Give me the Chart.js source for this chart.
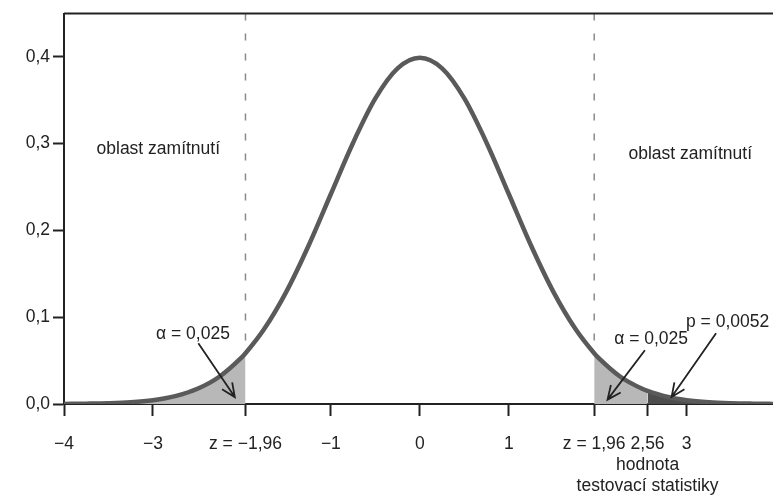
<!DOCTYPE html>
<html>
<head>
<meta charset="utf-8">
<script src="https://cdn.jsdelivr.net/npm/chart.js@4/dist/chart.umd.min.js"></script>
<style>
  html, body { margin: 0; background: #fff; }
  canvas { display: block; }
</style>
</head>
<body>
<canvas id="chart" width="773" height="498"></canvas>
<script>
// z values and the density
const zValues = [-4, -3.75, -3.5, -3.25, -3, -2.75, -2.5, -2.25, -2, -1.96, -1.75, -1.5, -1.25, -1, -0.75, -0.5, -0.25,
  0, 0.25, 0.5, 0.75, 1, 1.25, 1.5, 1.75, 1.96, 2, 2.25, 2.5, 2.56, 2.75, 3, 3.25, 3.5, 3.75, 4];
const density = [0.0001, 0.0004, 0.0009, 0.0020, 0.0044, 0.0091, 0.0175, 0.0317, 0.0540, 0.0584, 0.0863, 0.1295, 0.1826, 0.2420, 0.3011, 0.3521, 0.3867,
  0.3989, 0.3867, 0.3521, 0.3011, 0.2420, 0.1826, 0.1295, 0.0863, 0.0584, 0.0540, 0.0317, 0.0175, 0.0151, 0.0091, 0.0044, 0.0020, 0.0009, 0.0004, 0.0001];

const criticalValues = [-1.96, 1.96];
const testStatistic = 2.56;

const xTickValues = [-4, -3, -1.96, -1, 0, 1, 1.96, 2.56, 3];
const xTickLabels = ['\u22124', '\u22123', 'z = \u22121,96', '\u22121', '0', '1', 'z = 1,96',
  ['2,56', 'hodnota', 'testovací statistiky'], '3'];
const yTickValues = [0, 0.1, 0.2, 0.3, 0.4];
const yTickLabels = ['0,0', '0,1', '0,2', '0,3', '0,4'];

// text + arrows, placed in data coordinates
const notes = [
  { text: 'oblast zamítnutí', at: [-2.94, 0.294] },
  { text: 'oblast zamítnutí', at: [3.04, 0.288] },
  { text: '\u03b1 = 0,025', at: [-2.55, 0.081], arrow: [[-2.49, 0.070], [-2.08, 0.008]] },
  { text: '\u03b1 = 0,025', at: [2.6, 0.075], arrow: [[2.53, 0.062], [2.11, 0.005]] },
  { text: 'p = 0,0052', at: [3.46, 0.094], arrow: [[3.33, 0.0815], [2.83, 0.008]] }
];

const FAMILY = '"Liberation Sans", Arial, sans-serif';
const SIZE = 17.5;
const INK = '#222';

const points = zValues.map((z, i) => ({ x: z, y: density[i] }));
const leftTail = points.filter(p => p.x <= criticalValues[0]);
const rightTail = points.filter(p => p.x >= criticalValues[1] && p.x <= testStatistic);
const pTail = points.filter(p => p.x >= testStatistic);
const yMax = 0.45;
const dashLines = criticalValues.map(c => [
  { x: c, y: yMax },
  { x: c, y: density[zValues.indexOf(c)] }
]);

const area = (data, color) => ({
  data, fill: 'origin', backgroundColor: color, borderWidth: 0,
  pointRadius: 0, cubicInterpolationMode: 'monotone', order: 2
});
const dashed = data => ({
  data, borderColor: '#8a8a8a', borderWidth: 1.5, borderDash: [7, 13],
  pointRadius: 0, fill: false, order: 1
});

const frameAndNotes = {
  id: 'frameAndNotes',
  afterDraw(chart) {
    const { ctx, chartArea, scales: { x, y } } = chart;
    ctx.save();
    // top frame line
    ctx.strokeStyle = INK;
    ctx.lineWidth = 2;
    ctx.beginPath();
    ctx.moveTo(chartArea.left, chartArea.top);
    ctx.lineTo(chartArea.right, chartArea.top);
    ctx.stroke();

    ctx.font = SIZE + 'px ' + FAMILY;
    ctx.fillStyle = INK;
    ctx.textAlign = 'center';
    ctx.textBaseline = 'middle';
    notes.forEach(n => {
      ctx.fillText(n.text, x.getPixelForValue(n.at[0]), y.getPixelForValue(n.at[1]));
      if (!n.arrow) return;
      const [a, b] = n.arrow;
      const x0 = x.getPixelForValue(a[0]), y0 = y.getPixelForValue(a[1]);
      const x1 = x.getPixelForValue(b[0]), y1 = y.getPixelForValue(b[1]);
      const ang = Math.atan2(y1 - y0, x1 - x0);
      const head = 15, spread = 0.42;
      ctx.lineWidth = 1.8;
      ctx.beginPath();
      ctx.moveTo(x0, y0);
      ctx.lineTo(x1, y1);
      ctx.moveTo(x1 - head * Math.cos(ang - spread), y1 - head * Math.sin(ang - spread));
      ctx.lineTo(x1, y1);
      ctx.lineTo(x1 - head * Math.cos(ang + spread), y1 - head * Math.sin(ang + spread));
      ctx.stroke();
    });
    ctx.restore();
  }
};

new Chart(document.getElementById('chart'), {
  type: 'line',
  data: {
    datasets: [
      {
        data: points, borderColor: '#5a5a5a', borderWidth: 4.5, pointRadius: 0,
        cubicInterpolationMode: 'monotone', fill: false, order: 0
      },
      dashed(dashLines[0]),
      dashed(dashLines[1]),
      area(leftTail, '#b8b8b8'),
      area(rightTail, '#b8b8b8'),
      area(pTail, '#4d4d4d')
    ]
  },
  options: {
    responsive: false,
    animation: false,
    layout: { padding: { top: 12, right: 0, left: 0, bottom: 0 } },
    plugins: { legend: { display: false }, tooltip: { enabled: false } },
    scales: {
      x: {
        type: 'linear', min: -4, max: 3.97,
        afterBuildTicks: s => { s.ticks = xTickValues.map(v => ({ value: v })); },
        afterFit: s => { s.height = 94; },
        ticks: {
          autoSkip: false, maxRotation: 0, minRotation: 0, padding: 18,
          color: INK, font: { family: FAMILY, size: SIZE, lineHeight: 1.2 },
          callback: (v, i) => xTickLabels[i]
        },
        grid: { drawOnChartArea: false, drawTicks: true, tickLength: 12, tickColor: INK, tickWidth: 2 },
        border: { display: true, color: INK, width: 2 }
      },
      y: {
        type: 'linear', min: 0, max: yMax,
        afterBuildTicks: s => { s.ticks = yTickValues.map(v => ({ value: v })); },
        afterFit: s => { s.width = 64; },
        ticks: {
          padding: 3, color: INK,
          font: { family: FAMILY, size: SIZE },
          callback: (v, i) => yTickLabels[i]
        },
        grid: { drawOnChartArea: false, drawTicks: true, tickLength: 11, tickColor: INK, tickWidth: 2 },
        border: { display: true, color: INK, width: 2 }
      }
    }
  },
  plugins: [frameAndNotes]
});
</script>
</body>
</html>
